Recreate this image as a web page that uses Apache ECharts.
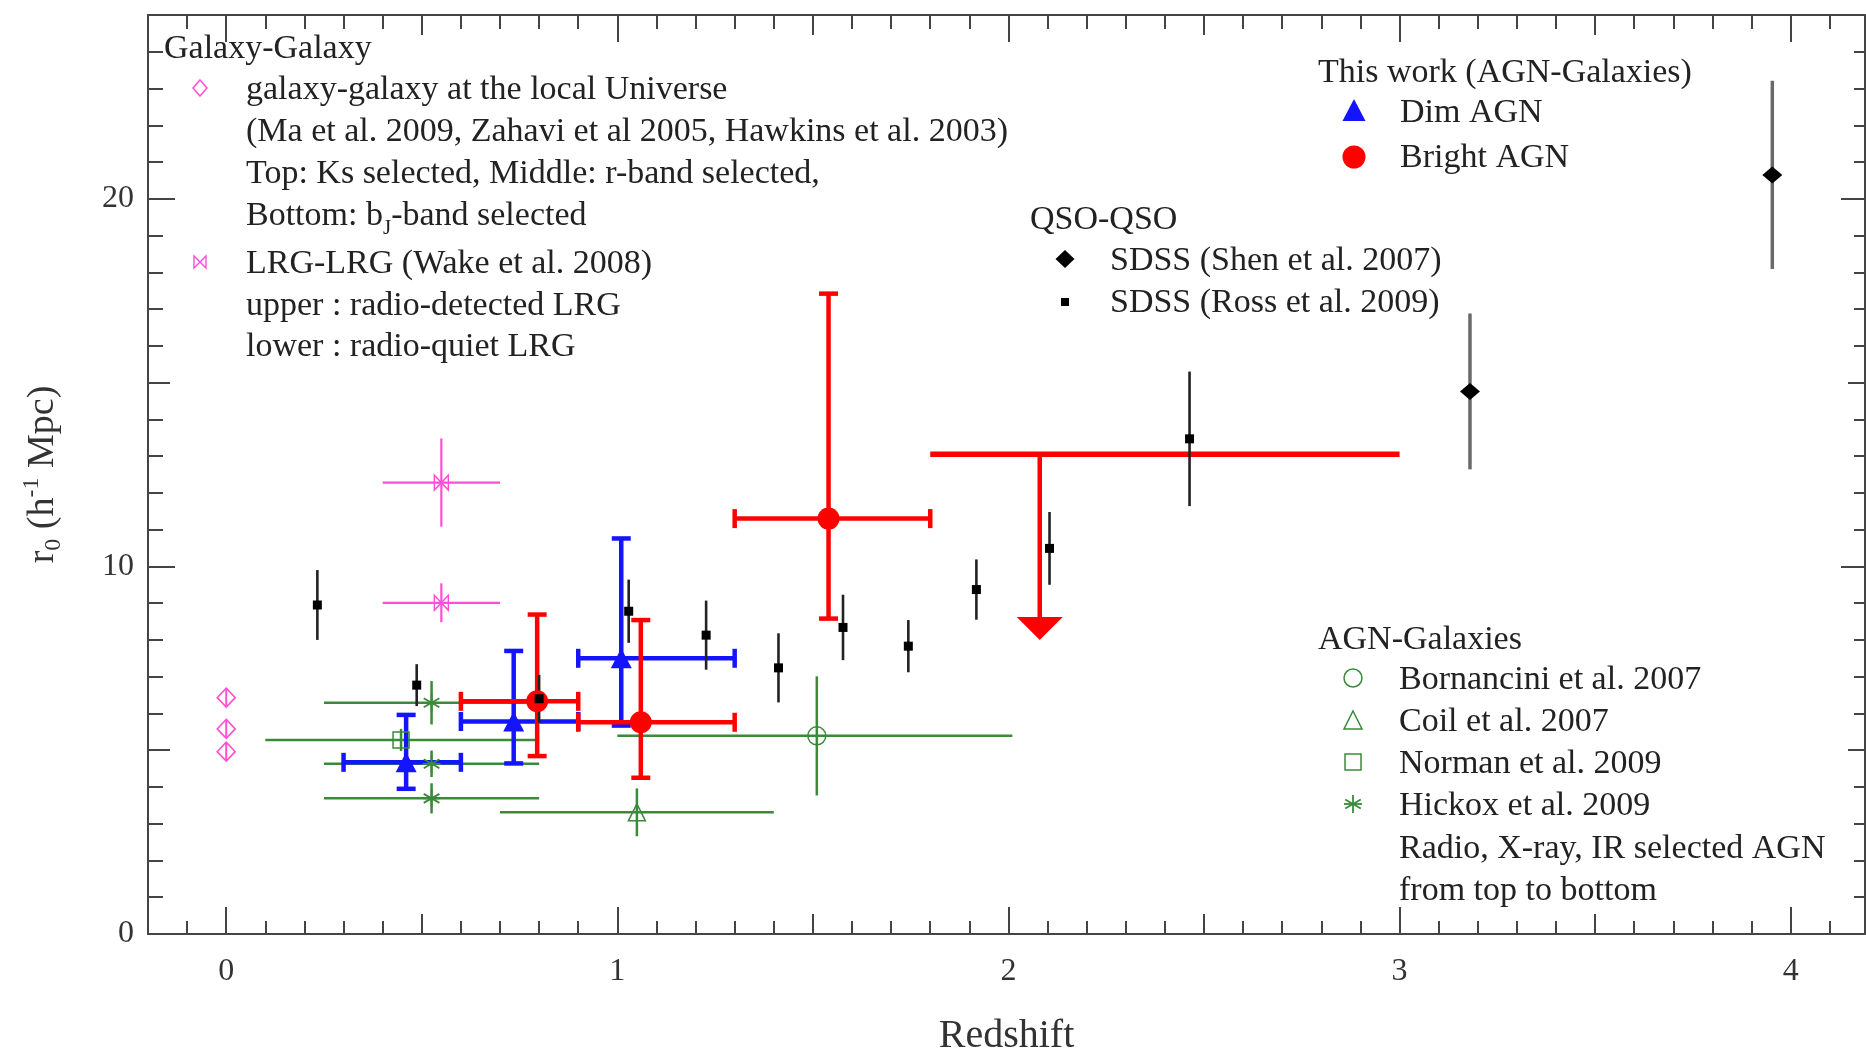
<!DOCTYPE html>
<html><head><meta charset="utf-8">
<script src="https://cdn.jsdelivr.net/npm/echarts@6/dist/echarts.min.js"></script>
<style>html,body{margin:0;padding:0;background:#fff}#c{width:1866px;height:1053px}</style>
</head><body><div id="c"></div>
<script>
// ---------------- data ----------------
// This work: Dim AGN (blue triangles)
const dimZ    = [0.46, 0.735, 1.01];
const dimR    = [4.67, 5.78, 7.50];
const dimZlo  = [0.30, 0.60, 0.90];
const dimZhi  = [0.60, 0.90, 1.30];
const dimRlo  = [3.95, 4.64, 5.67];
const dimRhi  = [5.96, 7.70, 10.76];
// This work: Bright AGN (red circles)
const brightZ   = [0.795, 1.06, 1.54];
const brightR   = [6.33, 5.76, 11.30];
const brightZlo = [0.60, 0.90, 1.30];
const brightZhi = [0.90, 1.30, 1.80];
const brightRlo = [4.84, 4.25, 8.58];
const brightRhi = [8.69, 8.54, 17.42];
// Bright AGN upper limit
const limitZ   = [2.08];
const limitZlo = [1.80];
const limitZhi = [3.00];
const limitR   = [13.05];
const limitTip = [8.0];
// QSO-QSO: SDSS Ross et al. 2009 (small squares)
const rossZ   = [0.233, 0.487, 0.80, 1.029, 1.227, 1.412, 1.577, 1.744, 1.918, 2.105, 2.463];
const rossR   = [8.95, 6.77, 6.40, 8.78, 8.13, 7.24, 8.34, 7.83, 9.37, 10.49, 13.47];
const rossErr = [0.95, 0.57, 0.65, 0.86, 0.94, 0.94, 0.89, 0.71, 0.82, 0.99, 1.83];
// QSO-QSO: SDSS Shen et al. 2007 (diamonds)
const shenZ   = [3.18, 3.953];
const shenR   = [14.76, 20.65];
const shenErr = [2.12, 2.56];
// Galaxy-galaxy at the local Universe
const localZ   = [0, 0, 0];
const localR   = [6.43, 5.58, 4.96];
const localErr = [0.25, 0.25, 0.25];
// LRG-LRG (Wake et al. 2008)
const lrgZ    = [0.55, 0.55];
const lrgR    = [12.28, 9.01];
const lrgZlo  = [0.40, 0.40];
const lrgZhi  = [0.70, 0.70];
const lrgErr  = [1.20, 0.53];
// AGN-Galaxies literature
const bornZ = [1.51], bornR = [5.39], bornZlo = [1.00], bornZhi = [2.01], bornErr = [1.62];
const coilZ = [1.05], coilR = [3.31], coilZlo = [0.70], coilZhi = [1.40], coilErr = [0.65];
const normZ = [0.447], normR = [5.28], normZlo = [0.10], normZhi = [0.80], normErr = [0.30];
const hickZ   = [0.525, 0.525, 0.525];
const hickR   = [6.29, 4.63, 3.69];
const hickZlo = [0.25, 0.25, 0.25];
const hickZhi = [0.80, 0.80, 0.80];
const hickErr = [0.59, 0.36, 0.41];
// axes
const X_MIN = -0.2, X_MAX = 4.19, Y_MIN = 0, Y_MAX = 25;
const xTickLabels = [0, 1, 2, 3, 4];
const yTickLabels = [0, 10, 20];

// ---------------- helpers ----------------
const FF = '"Liberation Serif","DejaVu Serif",serif';
const AX = '#444';
const GREEN = '#3a8a3a', MAGENTA = '#ff4fd6', BLUE = '#1414ff', RED = '#ff0000';

function steps(a, b, s) { const out = []; const n = Math.round((b - a) / s); for (let i = 0; i <= n; i++) out.push(+(a + i * s).toFixed(4)); return out; }
const xHalf = steps(0, 4.0, 0.5);
const xTenth = steps(-0.1, 4.1, 0.1);
const yFive = steps(0, 25, 5);
const yOne = steps(0, 25, 1);

function rowsAsym(z, r, zl, zh, rl, rh) { return z.map((v, i) => [v, r[i], zl[i], zh[i], rl[i], rh[i]]); }
function rowsSym(z, r, zl, zh, e) { return z.map((v, i) => [v, r[i], zl ? zl[i] : v, zh ? zh[i] : v, r[i] - e[i], r[i] + e[i]]); }
function pts(z, r) { return z.map((v, i) => [v, r[i]]); }

function errSeries(name, rows, color, width, cap) {
  return {
    type: 'custom', name, xAxisIndex: 0, yAxisIndex: 0, silent: true,
    data: rows, encode: { x: 0, y: 1 },
    renderItem: function (params, api) {
      const x = api.value(0), y = api.value(1), xl = api.value(2), xh = api.value(3), yl = api.value(4), yh = api.value(5);
      const a = api.coord([xl, y]), b = api.coord([xh, y]), d = api.coord([x, yl]), e = api.coord([x, yh]);
      const st = { stroke: color, lineWidth: width };
      const ch = [];
      if (xh > xl) ch.push({ type: 'line', shape: { x1: a[0], y1: a[1], x2: b[0], y2: b[1] }, style: st });
      if (yh > yl) ch.push({ type: 'line', shape: { x1: d[0], y1: d[1], x2: e[0], y2: e[1] }, style: st });
      if (cap) {
        const h = cap / 2;
        if (xh > xl) {
          ch.push({ type: 'line', shape: { x1: a[0], y1: a[1] - h, x2: a[0], y2: a[1] + h }, style: st });
          ch.push({ type: 'line', shape: { x1: b[0], y1: b[1] - h, x2: b[0], y2: b[1] + h }, style: st });
        }
        if (yh > yl) {
          ch.push({ type: 'line', shape: { x1: d[0] - h, y1: d[1], x2: d[0] + h, y2: d[1] }, style: st });
          ch.push({ type: 'line', shape: { x1: e[0] - h, y1: e[1], x2: e[0] + h, y2: e[1] }, style: st });
        }
      }
      return { type: 'group', children: ch };
    }
  };
}
function markSeries(name, data, symbol, size, fill, stroke, bw) {
  return {
    type: 'scatter', name, xAxisIndex: 0, yAxisIndex: 0, silent: true, data,
    symbol, symbolSize: size,
    itemStyle: { color: fill, borderColor: stroke || fill, borderWidth: bw || 0, opacity: 1 }
  };
}
const NONE = 'rgba(0,0,0,0)';
const ASTER = 'path://M10,0 L10,20 M1.3,5 L18.7,15 M1.3,15 L18.7,5 M0,10 L20,10';
const BOWTIE = 'path://M0,0 L0,10 L10,0 L10,10 Z';

function xAx(pos, ticks, len, opts) {
  return Object.assign({
    type: 'value', gridIndex: 0, position: pos, min: X_MIN, max: X_MAX,
    axisLine: { show: false, onZero: false }, splitLine: { show: false },
    axisTick: { show: true, inside: true, length: len, customValues: ticks, lineStyle: { color: AX, width: 2 } },
    axisLabel: { show: false }
  }, opts || {});
}
function yAx(pos, ticks, len, opts) {
  return Object.assign({
    type: 'value', gridIndex: 0, position: pos, min: Y_MIN, max: Y_MAX,
    axisLine: { show: false, onZero: false }, splitLine: { show: false },
    axisTick: { show: true, inside: true, length: len, customValues: ticks, lineStyle: { color: AX, width: 2 } },
    axisLabel: { show: false }
  }, opts || {});
}
const lineOn = { show: true, onZero: false, lineStyle: { color: AX, width: 2 } };

const xAxis = [
  xAx('bottom', xTickLabels, 27, {
    axisLine: lineOn,
    axisLabel: { show: true, customValues: xTickLabels, fontFamily: FF, fontSize: 32, color: '#333', margin: 22 },
    name: 'Redshift', nameLocation: 'middle', nameGap: 82,
    nameTextStyle: { fontFamily: FF, fontSize: 40, color: '#333' }
  }),
  xAx('bottom', xHalf, 20),
  xAx('bottom', xTenth, 13),
  xAx('top', xTickLabels, 27, { axisLine: lineOn }),
  xAx('top', xHalf, 20),
  xAx('top', xTenth, 14)
];
const yAxis = [
  yAx('left', yTickLabels, 27, {
    axisLine: lineOn,
    axisLabel: { show: true, customValues: yTickLabels, fontFamily: FF, fontSize: 32, color: '#333', margin: 14 },
    name: '{a|r}{s|0}{a| (h}{p|-1}{a| Mpc)}', nameLocation: 'middle', nameGap: 82,
    nameTextStyle: {
      color: '#333',
      rich: {
        a: { fontFamily: FF, fontSize: 38, lineHeight: 46, color: '#333', verticalAlign: 'middle' },
        s: { fontFamily: FF, fontSize: 24, lineHeight: 24, color: '#333', verticalAlign: 'bottom' },
        p: { fontFamily: FF, fontSize: 24, lineHeight: 24, color: '#333', verticalAlign: 'top' }
      }
    }
  }),
  yAx('left', yFive, 22),
  yAx('left', yOne, 15),
  yAx('right', yTickLabels, 24, { axisLine: lineOn }),
  yAx('right', yFive, 17),
  yAx('right', yOne, 11)
];

const series = [
  // AGN-Galaxies literature (green)
  errSeries('Hickox err', rowsSym(hickZ, hickR, hickZlo, hickZhi, hickErr), GREEN, 2.5, 0),
  markSeries('Hickox et al. 2009', pts(hickZ, hickR), ASTER, 18, NONE, GREEN, 1.8),
  errSeries('Norman err', rowsSym(normZ, normR, normZlo, normZhi, normErr), GREEN, 2.5, 0),
  markSeries('Norman et al. 2009', pts(normZ, normR), 'rect', 16, NONE, GREEN, 1.5),
  errSeries('Coil err', rowsSym(coilZ, coilR, coilZlo, coilZhi, coilErr), GREEN, 2.5, 0),
  markSeries('Coil et al. 2007', pts(coilZ, coilR), 'triangle', 17, NONE, GREEN, 1.5),
  errSeries('Bornancini err', rowsSym(bornZ, bornR, bornZlo, bornZhi, bornErr), GREEN, 2.5, 0),
  markSeries('Bornancini et al. 2007', pts(bornZ, bornR), 'circle', 18, NONE, GREEN, 1.5),
  // galaxy-galaxy (magenta)
  errSeries('local err', rowsSym(localZ, localR, null, null, localErr), MAGENTA, 2, 0),
  markSeries('galaxy-galaxy at the local Universe', pts(localZ, localR), 'diamond', [18, 19], NONE, MAGENTA, 1.6),
  errSeries('LRG err', rowsSym(lrgZ, lrgR, lrgZlo, lrgZhi, lrgErr), MAGENTA, 2.2, 0),
  markSeries('LRG-LRG (Wake et al. 2008)', pts(lrgZ, lrgR), BOWTIE, [14, 15], NONE, MAGENTA, 1.5),
  // This work
  errSeries('Dim err', rowsAsym(dimZ, dimR, dimZlo, dimZhi, dimRlo, dimRhi), BLUE, 4.5, 19),
  markSeries('Dim AGN', pts(dimZ, dimR), 'triangle', [21, 20], BLUE),
  errSeries('Bright err', rowsAsym(brightZ, brightR, brightZlo, brightZhi, brightRlo, brightRhi), RED, 4.5, 19),
  markSeries('Bright AGN', pts(brightZ, brightR), 'circle', 22, RED),
  {
    type: 'custom', name: 'Bright AGN upper limit', xAxisIndex: 0, yAxisIndex: 0, silent: true,
    data: limitZ.map((v, i) => [v, limitR[i], limitZlo[i], limitZhi[i], limitTip[i]]), encode: { x: 0, y: 1 },
    renderItem: function (params, api) {
      const x = api.value(0), y = api.value(1), xl = api.value(2), xh = api.value(3), tip = api.value(4);
      const a = api.coord([xl, y]), b = api.coord([xh, y]), top = api.coord([x, y]), t = api.coord([x, tip]);
      const ah = 23, aw = 23;
      return { type: 'group', children: [
        { type: 'line', shape: { x1: a[0], y1: a[1], x2: b[0], y2: b[1] }, style: { stroke: RED, lineWidth: 5.5 } },
        { type: 'line', shape: { x1: top[0], y1: top[1], x2: t[0], y2: t[1] - ah + 1 }, style: { stroke: RED, lineWidth: 4.5 } },
        { type: 'polygon', shape: { points: [[t[0] - aw, t[1] - ah], [t[0] + aw, t[1] - ah], [t[0], t[1]]] }, style: { fill: RED } }
      ] };
    }
  },
  // QSO-QSO (black)
  errSeries('Shen err', rowsSym(shenZ, shenR, null, null, shenErr), '#6a6a6a', 3.5, 0),
  markSeries('SDSS (Shen et al. 2007)', pts(shenZ, shenR), 'diamond', [20, 17], '#000'),
  errSeries('Ross err', rowsSym(rossZ, rossR, null, null, rossErr), '#222', 2.6, 0),
  markSeries('SDSS (Ross et al. 2009)', pts(rossZ, rossR), 'rect', 9, '#000')
];

// ---------------- legend blocks (text + sample markers) ----------------
const TXT = '#222';
const DY = 2.5;
function t(x, y, text, extra) {
  return { type: 'text', x, y: y + DY, silent: true, style: Object.assign({ text, fill: TXT, font: '34px ' + FF, align: 'left', verticalAlign: 'middle' }, extra || {}) };
}
function asterisk(cx, cy, r, color) {
  const c = [];
  const dirs = [[0, 1], [0.866, 0.5], [0.866, -0.5], [1, 0]];
  dirs.forEach(d => c.push({ type: 'line', silent: true, shape: { x1: cx - d[0] * r, y1: cy - d[1] * r, x2: cx + d[0] * r, y2: cy + d[1] * r }, style: { stroke: color, lineWidth: 1.8 } }));
  return c;
}
const g = [];
// Galaxy-Galaxy block
g.push(t(164, 47, 'Galaxy-Galaxy'));
g.push({ type: 'polygon', silent: true, shape: { points: [[200, 80], [207, 88], [200, 96], [193, 88]] }, style: { fill: NONE, stroke: MAGENTA, lineWidth: 1.5 } });
g.push(t(246, 88, 'galaxy-galaxy at the local Universe'));
g.push(t(246, 130, '(Ma et al. 2009, Zahavi et al 2005, Hawkins et al. 2003)'));
g.push(t(246, 172, 'Top: Ks selected, Middle: r-band selected,'));
g.push({ type: 'text', x: 246, y: 214 + DY, silent: true, style: {
  text: '{a|Bottom: b}{s|J}{a|-band selected}', fill: TXT, align: 'left', verticalAlign: 'middle',
  rich: { a: { fontFamily: FF, fontSize: 34, lineHeight: 44, fill: TXT, verticalAlign: 'middle' },
          s: { fontFamily: FF, fontSize: 21, lineHeight: 22, fill: TXT, verticalAlign: 'bottom' } } } });
g.push({ type: 'polygon', silent: true, shape: { points: [[194, 256], [194, 268], [206, 256], [206, 268]] }, style: { fill: NONE, stroke: MAGENTA, lineWidth: 1.4 } });
g.push(t(246, 262, 'LRG-LRG (Wake et al. 2008)'));
g.push(t(246, 304, 'upper : radio-detected LRG'));
g.push(t(246, 345, 'lower : radio-quiet LRG'));
// This work block
g.push(t(1318, 71, 'This work (AGN-Galaxies)'));
g.push({ type: 'polygon', silent: true, shape: { points: [[1354, 99], [1365.5, 121], [1342.5, 121]] }, style: { fill: BLUE } });
g.push(t(1400, 111, 'Dim AGN'));
g.push({ type: 'circle', silent: true, shape: { cx: 1354, cy: 157, r: 11.5 }, style: { fill: RED } });
g.push(t(1400, 156, 'Bright AGN'));
// QSO-QSO block
g.push(t(1030, 218, 'QSO-QSO'));
g.push({ type: 'polygon', silent: true, shape: { points: [[1065, 250], [1074.5, 259], [1065, 268], [1055.5, 259]] }, style: { fill: '#000' } });
g.push(t(1110, 259, 'SDSS (Shen et al. 2007)'));
g.push({ type: 'rect', silent: true, shape: { x: 1061, y: 298, width: 8, height: 8 }, style: { fill: '#000' } });
g.push(t(1110, 301, 'SDSS (Ross et al. 2009)'));
// AGN-Galaxies block
g.push(t(1318, 638, 'AGN-Galaxies'));
g.push({ type: 'circle', silent: true, shape: { cx: 1353, cy: 678, r: 9 }, style: { fill: NONE, stroke: GREEN, lineWidth: 1.5 } });
g.push(t(1399, 678, 'Bornancini et al. 2007'));
g.push({ type: 'polygon', silent: true, shape: { points: [[1353, 711], [1362, 729], [1344, 729]] }, style: { fill: NONE, stroke: GREEN, lineWidth: 1.5 } });
g.push(t(1399, 720, 'Coil et al. 2007'));
g.push({ type: 'rect', silent: true, shape: { x: 1345, y: 754, width: 16, height: 16 }, style: { fill: NONE, stroke: GREEN, lineWidth: 1.5 } });
g.push(t(1399, 762, 'Norman et al. 2009'));
asterisk(1353, 804, 9, GREEN).forEach(e => g.push(e));
g.push(t(1399, 804, 'Hickox et al. 2009'));
g.push(t(1399, 847, 'Radio, X-ray, IR selected AGN'));
g.push(t(1399, 889, 'from top to bottom'));

const chart = echarts.init(document.getElementById('c'), null, { renderer: 'canvas' });
chart.setOption({
  animation: false,
  backgroundColor: '#fff',
  grid: { left: 148, right: 1, top: 15, bottom: 119, containLabel: false, outerBoundsMode: 'none' },
  xAxis, yAxis, series,
  graphic: { elements: g }
});
</script></body></html>
